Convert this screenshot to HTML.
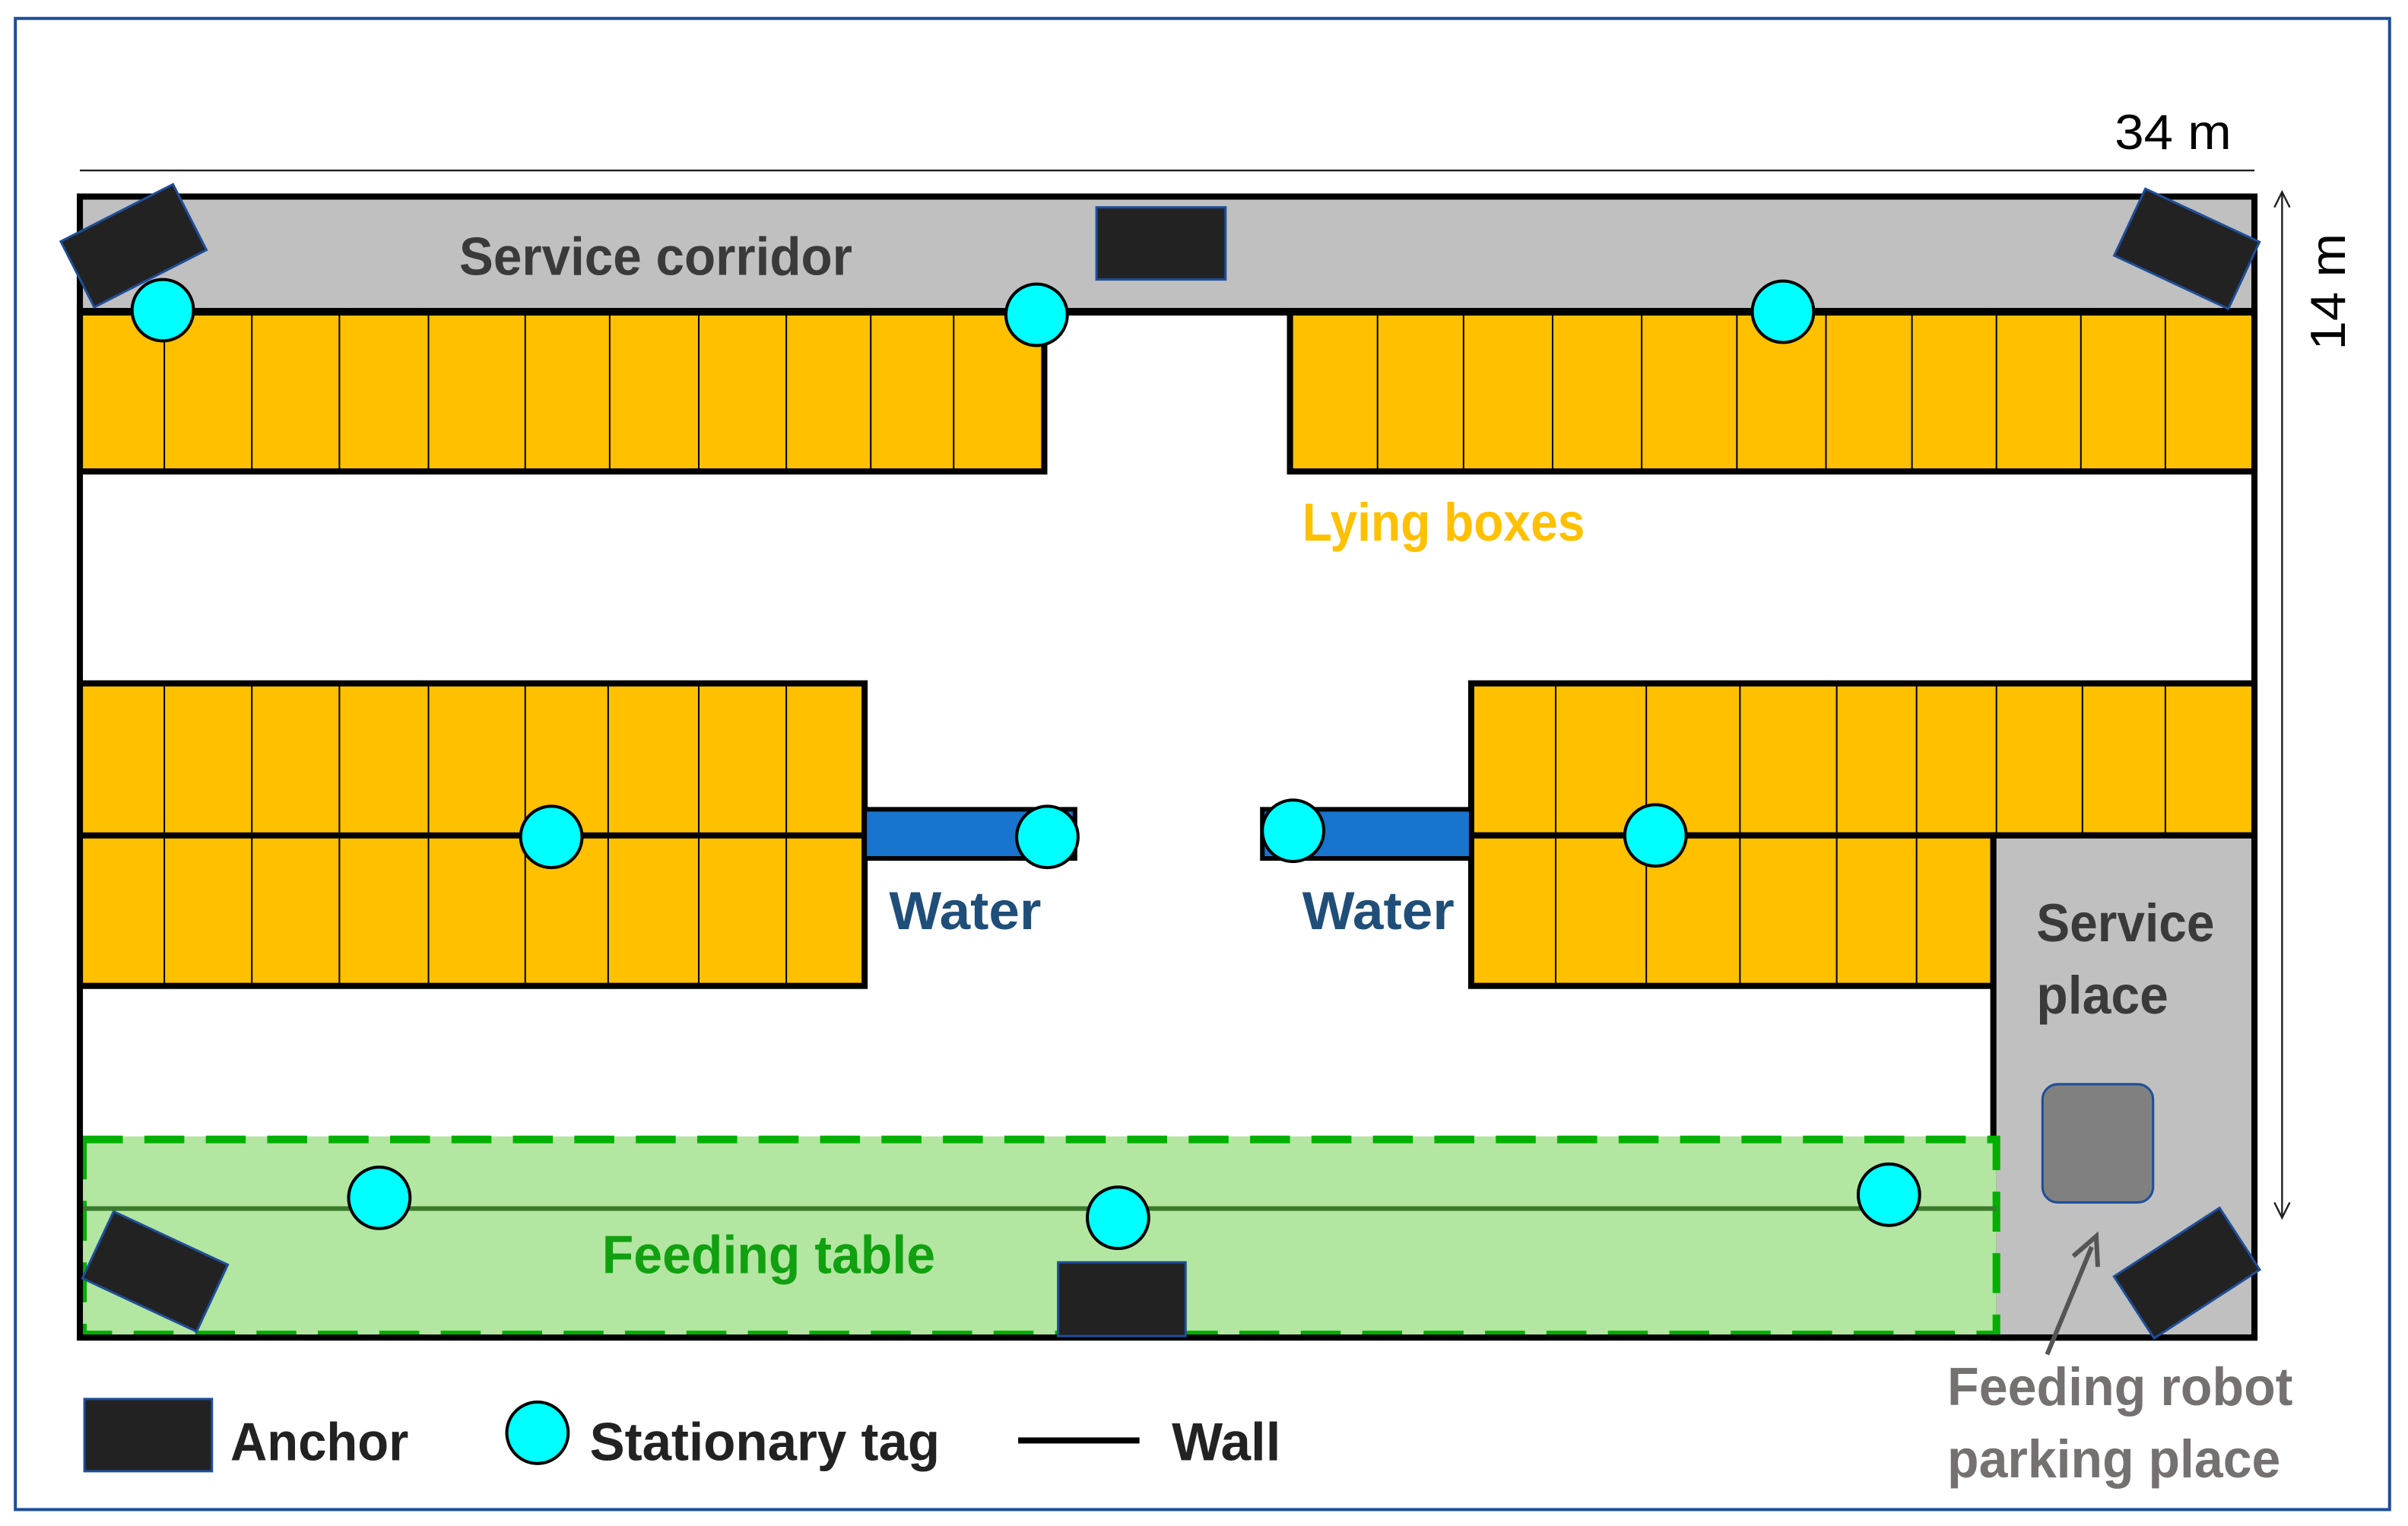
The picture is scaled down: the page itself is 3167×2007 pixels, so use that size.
<!DOCTYPE html>
<html><head><meta charset="utf-8"><style>html,body{margin:0;padding:0;background:#fff}svg{display:block}</style></head>
<body>
<svg width="3167" height="2007" viewBox="0 0 1568 993.7" preserveAspectRatio="none" xmlns="http://www.w3.org/2000/svg" font-family="Liberation Sans, sans-serif" font-weight="bold">
<rect x="10" y="12" width="1546" height="971" fill="#fff" stroke="#1f4e99" stroke-width="2"/>
<!-- dimension -->
<line x1="52" y1="111" x2="1468" y2="111" stroke="#222" stroke-width="1.2"/>
<text x="1377" y="97" font-size="32" font-weight="normal" fill="#000" textLength="76" lengthAdjust="spacingAndGlyphs">34 m</text>
<line x1="1486" y1="125" x2="1486" y2="793" stroke="#222" stroke-width="1.2"/>
<polyline points="1481,135 1486,125 1491,135" fill="none" stroke="#222" stroke-width="1.2"/>
<polyline points="1481,783 1486,793 1491,783" fill="none" stroke="#222" stroke-width="1.2"/>
<text transform="translate(1527,228) rotate(-90)" font-size="32" font-weight="normal" fill="#000" textLength="76" lengthAdjust="spacingAndGlyphs">14 m</text>
<!-- corridor -->
<rect x="52" y="128" width="1416" height="75" fill="#c0c0c0"/>
<text x="299" y="179" font-size="35" fill="#3a3a3a" textLength="256" lengthAdjust="spacingAndGlyphs">Service corridor</text>
<!-- top lying boxes -->
<rect x="52" y="203" width="628" height="104" fill="#ffc000" stroke="#000" stroke-width="4"/>
<g stroke="#000" stroke-width="1">
<line x1="107" y1="203" x2="107" y2="307"/><line x1="164" y1="203" x2="164" y2="307"/><line x1="221" y1="203" x2="221" y2="307"/><line x1="279" y1="203" x2="279" y2="307"/><line x1="342" y1="203" x2="342" y2="307"/><line x1="397" y1="203" x2="397" y2="307"/><line x1="455" y1="203" x2="455" y2="307"/><line x1="512" y1="203" x2="512" y2="307"/><line x1="567" y1="203" x2="567" y2="307"/><line x1="621" y1="203" x2="621" y2="307"/>
</g>
<rect x="840" y="203" width="628" height="104" fill="#ffc000" stroke="#000" stroke-width="4"/>
<g stroke="#000" stroke-width="1">
<line x1="897" y1="203" x2="897" y2="307"/><line x1="953" y1="203" x2="953" y2="307"/><line x1="1011" y1="203" x2="1011" y2="307"/><line x1="1069" y1="203" x2="1069" y2="307"/><line x1="1131" y1="203" x2="1131" y2="307"/><line x1="1189" y1="203" x2="1189" y2="307"/><line x1="1245" y1="203" x2="1245" y2="307"/><line x1="1300" y1="203" x2="1300" y2="307"/><line x1="1355" y1="203" x2="1355" y2="307"/><line x1="1410" y1="203" x2="1410" y2="307"/>
</g>
<line x1="52" y1="203" x2="1468" y2="203" stroke="#000" stroke-width="5"/>
<text x="848" y="352" font-size="35" fill="#ffc000" textLength="184" lengthAdjust="spacingAndGlyphs">Lying boxes</text>
<!-- middle left -->
<rect x="52" y="445" width="511" height="197" fill="#ffc000" stroke="#000" stroke-width="4"/>
<line x1="52" y1="544" x2="563" y2="544" stroke="#000" stroke-width="4"/>
<g stroke="#000" stroke-width="1">
<line x1="107" y1="445" x2="107" y2="642"/><line x1="164" y1="445" x2="164" y2="642"/><line x1="221" y1="445" x2="221" y2="642"/><line x1="279" y1="445" x2="279" y2="642"/><line x1="342" y1="445" x2="342" y2="642"/><line x1="396" y1="445" x2="396" y2="642"/><line x1="455" y1="445" x2="455" y2="642"/><line x1="512" y1="445" x2="512" y2="642"/>
</g>
<rect x="563" y="527" width="137" height="32" fill="#1874cd" stroke="#000" stroke-width="3"/>
<text x="579" y="605" font-size="35" fill="#1f4e79" textLength="99" lengthAdjust="spacingAndGlyphs">Water</text>
<!-- middle right -->
<rect x="958" y="445" width="510" height="99" fill="#ffc000" stroke="#000" stroke-width="4"/>
<rect x="958" y="544" width="340" height="98" fill="#ffc000" stroke="#000" stroke-width="4"/>
<g stroke="#000" stroke-width="1">
<line x1="1013" y1="445" x2="1013" y2="642"/><line x1="1072" y1="445" x2="1072" y2="642"/><line x1="1133" y1="445" x2="1133" y2="642"/><line x1="1196" y1="445" x2="1196" y2="642"/><line x1="1248" y1="445" x2="1248" y2="642"/><line x1="1300" y1="445" x2="1300" y2="544"/><line x1="1356" y1="445" x2="1356" y2="544"/><line x1="1410" y1="445" x2="1410" y2="544"/>
</g>
<rect x="822" y="527" width="136" height="32" fill="#1874cd" stroke="#000" stroke-width="3"/>
<text x="848" y="605" font-size="35" fill="#1f4e79" textLength="99" lengthAdjust="spacingAndGlyphs">Water</text>
<!-- service place -->
<rect x="1298" y="544" width="170" height="327" fill="#c0c0c0" stroke="#000" stroke-width="4"/>
<text x="1326" y="613" font-size="35" fill="#3a3a3a" textLength="116" lengthAdjust="spacingAndGlyphs">Service</text>
<text x="1326" y="660" font-size="35" fill="#3a3a3a" textLength="86" lengthAdjust="spacingAndGlyphs">place</text>
<rect x="1330" y="706" width="72" height="77" rx="10" fill="#808080" stroke="#1f4e99" stroke-width="1.5"/>
<!-- feeding table -->
<rect x="52" y="740" width="1248" height="131" fill="#b3e6a0"/>
<rect x="54" y="742" width="1246" height="127" fill="none" stroke="#00b000" stroke-width="5" stroke-dasharray="26,14"/>
<line x1="52" y1="787" x2="1300" y2="787" stroke="#3a7a2a" stroke-width="3"/>
<text x="392" y="829" font-size="35" fill="#10a010" textLength="217" lengthAdjust="spacingAndGlyphs">Feeding table</text>
<!-- outer walls -->
<rect x="52" y="128" width="1416" height="743" fill="none" stroke="#000" stroke-width="4"/>
<!-- anchors -->
<g fill="#222" stroke="#1f4e99" stroke-width="1.5">
<rect x="714" y="135" width="84" height="47"/>
<rect x="-41" y="-24" width="82" height="48" transform="translate(87,160) rotate(-27)"/>
<rect x="-41" y="-24" width="82" height="48" transform="translate(1424,162) rotate(25)"/>
<rect x="-41" y="-24" width="82" height="48" transform="translate(101,828) rotate(25)"/>
<rect x="689" y="822" width="83" height="48"/>
<rect x="-41" y="-24" width="82" height="48" transform="translate(1424,829) rotate(-33)"/>
<rect x="55" y="911" width="83" height="47"/>
</g>
<!-- arrow -->
<line x1="1333" y1="882" x2="1362" y2="812" stroke="#555" stroke-width="3"/>
<polyline points="1350,818 1365,805 1366,825" fill="none" stroke="#555" stroke-width="3"/>
<text x="1268" y="915" font-size="35" fill="#767171" textLength="225" lengthAdjust="spacingAndGlyphs">Feeding robot</text>
<text x="1268" y="962" font-size="35" fill="#767171" textLength="217" lengthAdjust="spacingAndGlyphs">parking place</text>
<!-- tags -->
<g fill="#00ffff" stroke="#000" stroke-width="2">
<circle cx="106" cy="202" r="20"/><circle cx="675" cy="205" r="20"/><circle cx="1161" cy="203" r="20"/>
<circle cx="359" cy="545" r="20"/><circle cx="682" cy="545" r="20"/><circle cx="842" cy="541" r="20"/><circle cx="1078" cy="544" r="20"/>
<circle cx="247" cy="780" r="20"/><circle cx="728" cy="793" r="20"/><circle cx="1230" cy="778" r="20"/>
<circle cx="350" cy="933" r="20"/>
</g>
<!-- legend -->
<text x="150" y="951" font-size="35" fill="#222" textLength="116" lengthAdjust="spacingAndGlyphs">Anchor</text>
<text x="384" y="951" font-size="35" fill="#222" textLength="228" lengthAdjust="spacingAndGlyphs">Stationary tag</text>
<line x1="663" y1="938" x2="742" y2="938" stroke="#000" stroke-width="4"/>
<text x="763" y="951" font-size="35" fill="#222" textLength="71" lengthAdjust="spacingAndGlyphs">Wall</text>
</svg>
</body></html>
